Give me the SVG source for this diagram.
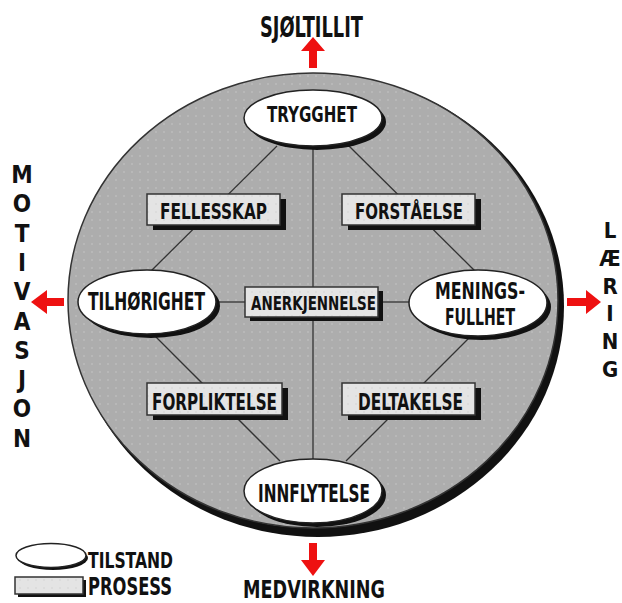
<svg xmlns="http://www.w3.org/2000/svg" width="622" height="603" viewBox="0 0 622 603">
<defs>
<pattern id="dots" width="8" height="8" patternUnits="userSpaceOnUse">
<rect width="8" height="8" fill="#adadad"/>
<circle cx="4" cy="4" r="0.8" fill="#c6c6c6"/>
</pattern>
<pattern id="dotsLight" width="8" height="8" patternUnits="userSpaceOnUse">
<rect width="8" height="8" fill="#e4e4e4"/>
<circle cx="4" cy="4" r="0.7" fill="#cfcfcf"/>
</pattern>
</defs>
<style>
text{font-family:"Liberation Sans Narrow","DejaVu Sans Condensed","Liberation Sans",sans-serif;font-weight:bold;fill:#111;}
.c{text-anchor:middle;}
.st{fill:#fff;stroke:#222;stroke-width:1.5;}
.sh{fill:#111;}
.bx{fill:url(#dotsLight);stroke:#333;stroke-width:1.5;}
.ln{stroke:#333;stroke-width:1.3;fill:none;}
.ar{fill:#ee1111;}
</style>
<rect width="622" height="603" fill="#fff"/>
<g id="circle">
<ellipse cx="318" cy="306" rx="246" ry="231" fill="#111"/>
<ellipse cx="313" cy="300.5" rx="245" ry="227.5" fill="url(#dots)" stroke="#333" stroke-width="1.5"/>
</g>
<g id="connectors">
<line class="ln" x1="313" y1="146" x2="313" y2="287"/>
<line class="ln" x1="313" y1="317" x2="313" y2="460"/>
<line class="ln" x1="277" y1="146" x2="150" y2="272"/>
<line class="ln" x1="349" y1="146" x2="476" y2="272"/>
<line class="ln" x1="155" y1="336" x2="280" y2="461"/>
<line class="ln" x1="471" y1="336" x2="346" y2="461"/>
<line class="ln" x1="215" y1="302" x2="245" y2="302"/>
<line class="ln" x1="378" y1="302" x2="410" y2="302"/>
</g>
<g id="arrows">
<path class="ar" d="M313,37 L325,51 L317,51 L317,68 L309,68 L309,51 L301,51 Z"/>
<path class="ar" d="M31,302 L47,290 L47,298 L64,298 L64,306 L47,306 L47,314 Z"/>
<path class="ar" d="M601,302 L586,290 L586,298 L567,298 L567,306 L586,306 L586,314 Z"/>
<path class="ar" d="M313,576 L301,560 L309,560 L309,543 L317,543 L317,560 L325,560 Z"/>
</g>
<g id="trygghet">
<ellipse class="sh" cx="317" cy="122" rx="69" ry="28"/>
<ellipse class="st" cx="313" cy="118" rx="69" ry="28"/>
<text class="c" x="312" y="122" font-size="22" textLength="90" lengthAdjust="spacingAndGlyphs">TRYGGHET</text>
</g>
<g id="tilhorighet">
<ellipse class="sh" cx="151" cy="306" rx="69" ry="32"/>
<ellipse class="st" cx="147" cy="302" rx="69" ry="32"/>
<text class="c" x="146.5" y="310" font-size="24" textLength="117" lengthAdjust="spacingAndGlyphs">TILHØRIGHET</text>
</g>
<g id="meningsfullhet">
<ellipse class="sh" cx="482" cy="307" rx="69" ry="33"/>
<ellipse class="st" cx="478" cy="303" rx="69" ry="33"/>
<text class="c" x="480" y="299" font-size="23" textLength="90" lengthAdjust="spacingAndGlyphs">MENINGS-</text>
<text class="c" x="480" y="325" font-size="23" textLength="70" lengthAdjust="spacingAndGlyphs">FULLHET</text>
</g>
<g id="innflytelse">
<ellipse class="sh" cx="317" cy="495" rx="69" ry="32"/>
<ellipse class="st" cx="313" cy="491" rx="69" ry="32"/>
<text class="c" x="314" y="502" font-size="24" textLength="112" lengthAdjust="spacingAndGlyphs">INNFLYTELSE</text>
</g>
<g id="fellesskap">
<rect class="sh" x="153" y="199" width="133" height="31"/>
<rect class="bx" x="147" y="194" width="133" height="31"/>
<text class="c" x="213.5" y="219" font-size="22" textLength="107" lengthAdjust="spacingAndGlyphs">FELLESSKAP</text>
</g>
<g id="forstaelse">
<rect class="sh" x="348" y="199" width="133" height="31"/>
<rect class="bx" x="342" y="194" width="133" height="31"/>
<text class="c" x="409" y="219" font-size="22" textLength="108" lengthAdjust="spacingAndGlyphs">FORSTÅELSE</text>
</g>
<g id="anerkjennelse">
<rect class="sh" x="250" y="291" width="133" height="30"/>
<rect class="bx" x="245" y="287" width="133" height="30"/>
<text class="c" x="313.5" y="310" font-size="20" textLength="125" lengthAdjust="spacingAndGlyphs">ANERKJENNELSE</text>
</g>
<g id="forpliktelse">
<rect class="sh" x="153" y="388" width="135" height="32"/>
<rect class="bx" x="147" y="383" width="135" height="32"/>
<text class="c" x="214.5" y="410" font-size="23" textLength="125" lengthAdjust="spacingAndGlyphs">FORPLIKTELSE</text>
</g>
<g id="deltakelse">
<rect class="sh" x="348" y="388" width="133" height="32"/>
<rect class="bx" x="342" y="383" width="133" height="32"/>
<text class="c" x="410.5" y="410" font-size="23" textLength="105" lengthAdjust="spacingAndGlyphs">DELTAKELSE</text>
</g>
<g id="outer-labels">
<text class="c" x="311.5" y="37" font-size="28" textLength="103" lengthAdjust="spacingAndGlyphs">SJØLTILLIT</text>
<text class="c" x="314" y="598" font-size="25" textLength="142" lengthAdjust="spacingAndGlyphs">MEDVIRKNING</text>
<g font-size="24">
<text class="c" x="22" y="183">M</text>
<text class="c" x="22" y="212">O</text>
<text class="c" x="22" y="242">T</text>
<text class="c" x="22" y="271">I</text>
<text class="c" x="22" y="300">V</text>
<text class="c" x="22" y="330">A</text>
<text class="c" x="22" y="359">S</text>
<text class="c" x="22" y="388">J</text>
<text class="c" x="22" y="417">O</text>
<text class="c" x="22" y="447">N</text>
</g>
<g font-size="22">
<text class="c" x="610" y="238">L</text>
<text class="c" x="610" y="266">Æ</text>
<text class="c" x="610" y="294">R</text>
<text class="c" x="610" y="321">I</text>
<text class="c" x="610" y="349">N</text>
<text class="c" x="610" y="377">G</text>
</g>
</g>
<g id="legend">
<ellipse class="sh" cx="53" cy="558" rx="35" ry="12"/>
<ellipse class="st" cx="51" cy="555.5" rx="35" ry="12"/>
<text x="88" y="568" font-size="22" textLength="85" lengthAdjust="spacingAndGlyphs">TILSTAND</text>
<rect class="sh" x="18" y="580" width="68" height="17"/>
<rect class="bx" x="15" y="577" width="68" height="17"/>
<text x="88" y="595" font-size="24" textLength="84" lengthAdjust="spacingAndGlyphs">PROSESS</text>
</g>
</svg>
